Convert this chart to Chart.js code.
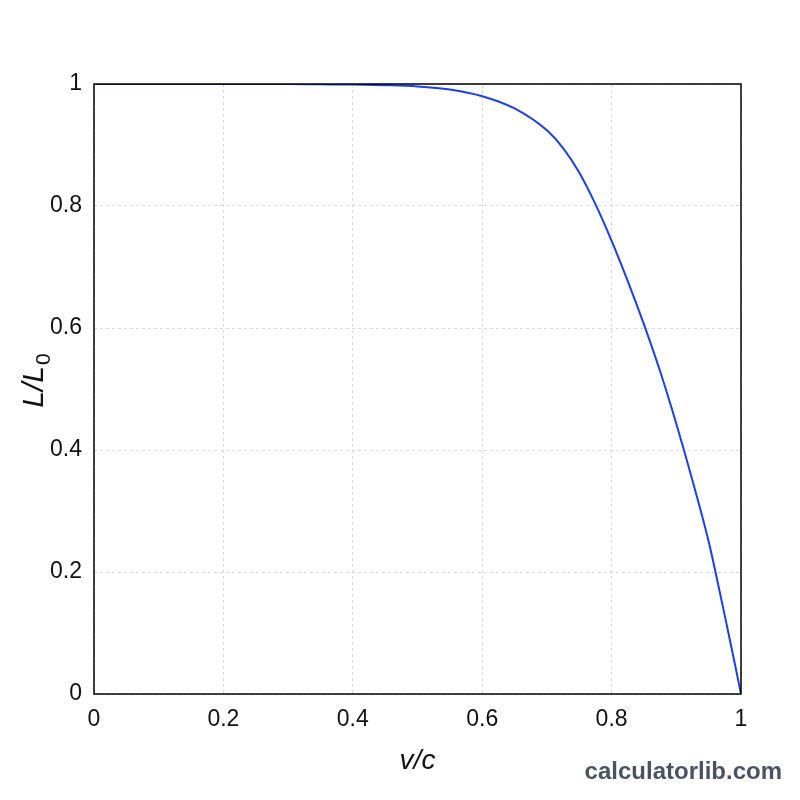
<!DOCTYPE html>
<html>
<head>
<meta charset="utf-8">
<script src="https://cdn.jsdelivr.net/npm/chart.js@4/dist/chart.umd.min.js"></script>
<style>
  html, body { margin: 0; padding: 0; background: #ffffff; }
  #wrap { width: 800px; height: 800px; position: relative; }
</style>
</head>
<body>
<div id="wrap"><canvas id="c" width="800" height="800"></canvas></div>
<script>
// Data
const vOverC = [0, 0.1, 0.2, 0.3, 0.35, 0.4, 0.45, 0.5, 0.55, 0.6, 0.65, 0.7, 0.725, 0.75, 0.775, 0.8, 0.825, 0.85, 0.875, 0.9, 0.925, 0.95, 0.96, 0.98, 0.99, 1];
const lengthRatio = [1, 1, 1, 1, 0.9995, 0.999, 0.998, 0.996, 0.991, 0.980, 0.960, 0.924, 0.895, 0.855, 0.803, 0.743, 0.677, 0.606, 0.529, 0.443, 0.350, 0.250, 0.203, 0.103, 0.052, 0];
const xTickValues = [0, 0.2, 0.4, 0.6, 0.8, 1];
const xTickLabels = ["0", "0.2", "0.4", "0.6", "0.8", "1"];
const yTickValues = [0, 0.2, 0.4, 0.6, 0.8, 1];
const yTickLabels = ["0", "0.2", "0.4", "0.6", "0.8", "1"];
const xTitle = "v/c";
const yTitleMain = "L/L";
const yTitleSub = "0";
const watermark = "calculatorlib.com";

const points = vOverC.map((v, i) => ({ x: v, y: lengthRatio[i] }));
const FONT = '"Liberation Sans", Arial, Helvetica, sans-serif';

const framePlugin = {
  id: 'frame',
  afterDraw(chart) {
    const { ctx, chartArea: a } = chart;
    ctx.save();
    ctx.strokeStyle = '#000000';
    ctx.lineWidth = 1.5;
    ctx.setLineDash([]);
    ctx.strokeRect(a.left, a.top, a.right - a.left, a.bottom - a.top);

    // y axis title with subscript, rotated
    const cy = (a.top + a.bottom) / 2;
    ctx.translate(35, cy - 8);
    ctx.rotate(-Math.PI / 2);
    ctx.fillStyle = '#111111';
    ctx.textBaseline = 'middle';
    ctx.font = 'italic 30px ' + FONT;
    const wMain = ctx.measureText(yTitleMain).width;
    ctx.font = '21px ' + FONT;
    const wSub = ctx.measureText(yTitleSub).width;
    const start = -(wMain + wSub) / 2;
    ctx.font = 'italic 30px ' + FONT;
    ctx.textAlign = 'left';
    ctx.fillText(yTitleMain, start, 0);
    ctx.font = '21px ' + FONT;
    ctx.fillText(yTitleSub, start + wMain + 1, 9);
    ctx.setTransform(1, 0, 0, 1, 0, 0);

    ctx.font = 'bold 24px ' + FONT;
    ctx.fillStyle = '#4a5361';
    ctx.textAlign = 'right';
    ctx.textBaseline = 'middle';
    ctx.fillText(watermark, 782, 772);
    ctx.restore();
  }
};

const labelFor = (vals, labels) => (value) => {
  const i = vals.findIndex(t => Math.abs(t - value) < 1e-9);
  return i >= 0 ? labels[i] : '';
};

new Chart(document.getElementById('c'), {
  type: 'line',
  data: {
    datasets: [{
      data: points,
      borderColor: '#1d3fe8',
      borderWidth: 2,
      pointRadius: 0,
      fill: false,
      cubicInterpolationMode: 'monotone'
    }]
  },
  options: {
    responsive: false,
    animation: false,
    devicePixelRatio: 1,
    layout: { padding: { left: 0, top: 84, right: 59, bottom: 0 } },
    plugins: { legend: { display: false }, tooltip: { enabled: false } },
    scales: {
      x: {
        type: 'linear', min: 0, max: 1,
        afterFit(scale) { scale.height = 106; },
        afterBuildTicks(scale) { scale.ticks = xTickValues.map(v => ({ value: v })); },
        ticks: {
          callback: labelFor(xTickValues, xTickLabels),
          color: '#111111',
          font: { family: FONT, size: 23 },
          padding: 12,
          maxRotation: 0
        },
        grid: { color: '#d9d9d9', lineWidth: 1, drawTicks: false },
        border: { display: false, dash: [3, 3] },
        title: {
          display: true, text: xTitle, color: '#111111',
          font: { family: FONT, size: 28, style: 'italic' },
          padding: 22
        }
      },
      y: {
        type: 'linear', min: 0, max: 1,
        afterFit(scale) { scale.width = 94; },
        afterBuildTicks(scale) { scale.ticks = yTickValues.map(v => ({ value: v })); },
        ticks: {
          callback: labelFor(yTickValues, yTickLabels),
          color: '#111111',
          font: { family: FONT, size: 23 },
          padding: 12
        },
        grid: { color: '#d9d9d9', lineWidth: 1, drawTicks: false },
        border: { display: false, dash: [3, 3] },
        title: { display: false }
      }
    }
  },
  plugins: [framePlugin]
});
</script>
</body>
</html>
